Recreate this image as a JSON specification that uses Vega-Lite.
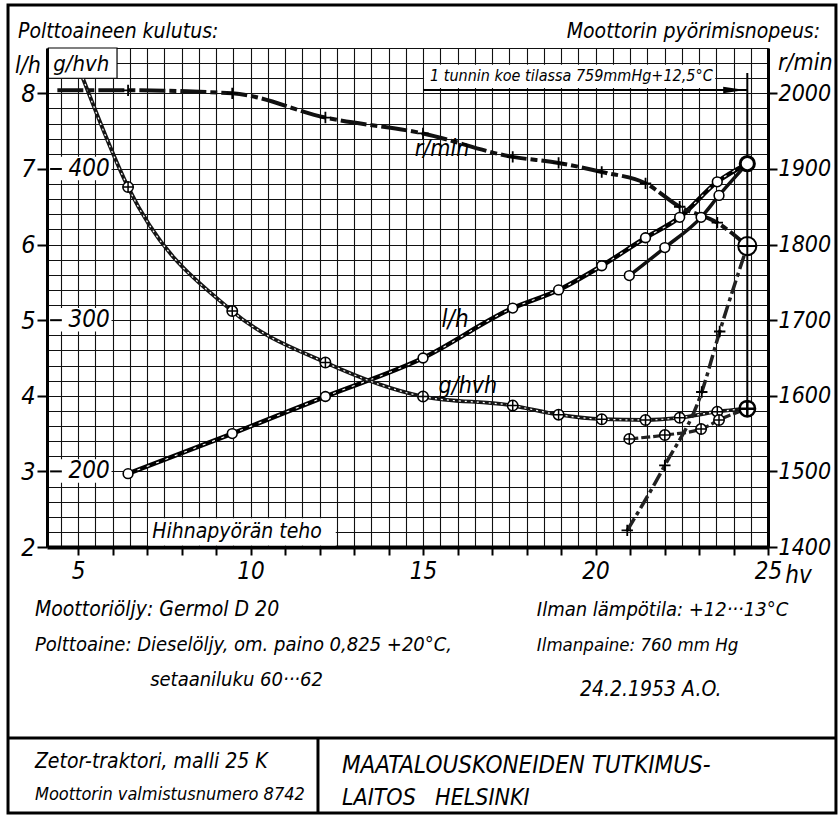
{
"$schema": "https://vega.github.io/schema/vega-lite/v6.json",
"width": 721, "height": 499,
"autosize": {"type": "none"},
"padding": {"left": 47, "top": 48, "right": 72, "bottom": 269},
"background": "white",
"data": {"values": [{}]},
"config": {
  "view": {"stroke": null},
  "font": "DejaVu Sans Condensed, Roboto Condensed, Roboto, sans-serif",
  "text": {"font": "DejaVu Sans Condensed, Roboto Condensed, Roboto, sans-serif", "fontStyle": "italic", "fontSize": 20, "color": "black"},
  "axis": {"labelFont": "DejaVu Sans Condensed, Roboto Condensed, Roboto, sans-serif", "labelFontStyle": "italic", "labelColor": "black", "domainColor": "black", "tickColor": "black"}
},
"datasets": {
  "lh": [
    {"hv": 6.45, "lh": 2.97}, {"hv": 9.47, "lh": 3.50}, {"hv": 12.17, "lh": 3.99}, {"hv": 15.0, "lh": 4.50},
    {"hv": 17.6, "lh": 5.16}, {"hv": 18.93, "lh": 5.40}, {"hv": 20.18, "lh": 5.72}, {"hv": 21.45, "lh": 6.09},
    {"hv": 22.44, "lh": 6.36}, {"hv": 23.53, "lh": 6.83}, {"hv": 24.4, "lh": 7.07}
  ],
  "lh_part": [
    {"hv": 20.98, "lh": 5.59}, {"hv": 22.01, "lh": 5.96}, {"hv": 23.06, "lh": 6.36}, {"hv": 23.58, "lh": 6.65}, {"hv": 24.4, "lh": 7.07}
  ],
  "ghvh": [
    {"hv": 5.14, "ghvh": 460}, {"hv": 6.45, "ghvh": 388}, {"hv": 9.47, "ghvh": 306}, {"hv": 12.17, "ghvh": 272},
    {"hv": 15.0, "ghvh": 249.5}, {"hv": 17.6, "ghvh": 243.5}, {"hv": 18.93, "ghvh": 237.5}, {"hv": 20.18, "ghvh": 234.5},
    {"hv": 21.45, "ghvh": 234}, {"hv": 22.44, "ghvh": 235.5}, {"hv": 23.53, "ghvh": 239.5}, {"hv": 24.4, "ghvh": 241.5}
  ],
  "ghvh_part": [
    {"hv": 20.98, "ghvh": 221.5}, {"hv": 22.01, "ghvh": 224}, {"hv": 23.06, "ghvh": 228}, {"hv": 23.58, "ghvh": 234}, {"hv": 24.4, "ghvh": 241.5}
  ],
  "rpm": [
    {"hv": 4.4, "rpm": 2004}, {"hv": 6.45, "rpm": 2004}, {"hv": 9.47, "rpm": 2000}, {"hv": 12.17, "rpm": 1968},
    {"hv": 15.0, "rpm": 1947}, {"hv": 17.6, "rpm": 1916}, {"hv": 18.93, "rpm": 1908}, {"hv": 20.18, "rpm": 1896},
    {"hv": 21.45, "rpm": 1881}, {"hv": 22.44, "rpm": 1850}, {"hv": 23.53, "rpm": 1829}, {"hv": 24.4, "rpm": 1798}
  ],
  "rpm_part": [
    {"hv": 20.92, "rpm": 1422}, {"hv": 22.01, "rpm": 1508}, {"hv": 23.08, "rpm": 1605}, {"hv": 23.6, "rpm": 1685}, {"hv": 24.4, "rpm": 1798}
  ],
  "test": [{"hv": 24.4, "lh": 7.07, "ghvh": 241.5, "rpm": 1798}]
},
"layer": [
  {"data": {"name": "lh"},
   "mark": {"type": "line", "color": "black", "strokeWidth": 4.5, "interpolate": "monotone"},
   "encoding": {
     "x": {"field": "hv", "type": "quantitative", "scale": {"domain": [4.1, 25], "nice": false, "zero": false},
           "axis": {"orient": "bottom", "values": [4.5,5,5.5,6,6.5,7,7.5,8,8.5,9,9.5,10,10.5,11,11.5,12,12.5,13,13.5,14,14.5,15,15.5,16,16.5,17,17.5,18,18.5,19,19.5,20,20.5,21,21.5,22,22.5,23,23.5,24,24.5,25],
                    "tickCount": 100,
                    "grid": true, "gridColor": "#111", "gridWidth": 1.1, "gridOpacity": 1,
                    "domain": true, "domainWidth": 4, "ticks": true, "tickSize": 8, "tickWidth": 2,
                    "tickOpacity": {"condition": {"test": "datum.value % 1 === 0", "value": 1}, "value": 0},
                    "labelExpr": "datum.value % 5 === 0 ? format(datum.value, 'd') : ''", "labelFontSize": 24, "labelPadding": 4,
                    "labelOverlap": false, "labelFlush": false, "labelBound": false, "title": null, "zindex": 0}},
     "y": {"field": "lh", "type": "quantitative", "scale": {"domain": [2, 8.6], "nice": false, "zero": false},
           "axis": {"orient": "left", "values": [2,2.2,2.4,2.6,2.8,3,3.2,3.4,3.6,3.8,4,4.2,4.4,4.6,4.8,5,5.2,5.4,5.6,5.8,6,6.2,6.4,6.6,6.8,7,7.2,7.4,7.6,7.8,8,8.2,8.4,8.6],
                    "tickCount": 100,
                    "grid": true, "gridColor": "#111", "gridWidth": 1.1, "gridOpacity": 1,
                    "domain": true, "domainWidth": 3, "ticks": true, "tickSize": 10, "tickWidth": 2,
                    "tickOpacity": {"condition": {"test": "datum.value % 1 === 0", "value": 1}, "value": 0},
                    "labelExpr": "datum.value % 1 === 0 ? format(datum.value, 'd') : ''", "labelFontSize": 25, "labelPadding": 2,
                    "labelOverlap": false, "labelFlush": false, "labelBound": false, "title": null, "zindex": 0}}
   }},
  {"data": {"name": "lh"},
   "mark": {"type": "line", "color": "white", "strokeWidth": 1.1, "interpolate": "monotone", "strokeDash": [3, 7]},
   "encoding": {"x": {"field": "hv", "type": "quantitative"}, "y": {"field": "lh", "type": "quantitative", "scale": {"domain": [2, 8.6], "nice": false, "zero": false}, "axis": null}}},
  {"data": {"name": "lh_part"},
   "mark": {"type": "line", "color": "#111", "strokeWidth": 3.5, "interpolate": "monotone"},
   "encoding": {"x": {"field": "hv", "type": "quantitative"}, "y": {"field": "lh", "type": "quantitative", "scale": {"domain": [2, 8.6], "nice": false, "zero": false}, "axis": null}}},
  {"data": {"name": "ghvh"},
   "mark": {"type": "line", "color": "#151515", "strokeWidth": 3.8, "interpolate": "monotone"},
   "encoding": {"x": {"field": "hv", "type": "quantitative"}, "y": {"field": "ghvh", "type": "quantitative", "scale": {"domain": [150, 480], "nice": false, "zero": false}, "axis": null}}},
  {"data": {"name": "ghvh"},
   "mark": {"type": "line", "color": "white", "strokeWidth": 1.2, "interpolate": "monotone", "strokeDash": [2, 4]},
   "encoding": {"x": {"field": "hv", "type": "quantitative"}, "y": {"field": "ghvh", "type": "quantitative", "scale": {"domain": [150, 480], "nice": false, "zero": false}, "axis": null}}},
  {"data": {"name": "ghvh_part"},
   "mark": {"type": "line", "color": "#222", "strokeWidth": 3.2, "interpolate": "monotone", "strokeDash": [9, 3]},
   "encoding": {"x": {"field": "hv", "type": "quantitative"}, "y": {"field": "ghvh", "type": "quantitative", "scale": {"domain": [150, 480], "nice": false, "zero": false}, "axis": null}}},
  {"data": {"name": "rpm"},
   "mark": {"type": "line", "color": "#111", "strokeWidth": 4, "interpolate": "monotone", "strokeDash": [26, 4, 7, 4]},
   "encoding": {
     "x": {"field": "hv", "type": "quantitative"},
     "y": {"field": "rpm", "type": "quantitative", "scale": {"domain": [1400, 2060], "nice": false, "zero": false},
           "axis": {"orient": "right", "grid": false, "values": [1400,1500,1600,1700,1800,1900,2000], "tickCount": 100, "format": "d", "domain": true, "domainWidth": 3, "ticks": true, "tickSize": 9, "tickWidth": 2,
                    "labelFontSize": 23, "labelPadding": 1, "labelBound": false, "labelFlush": false, "title": null, "zindex": 0}}
   }},
  {"data": {"name": "rpm_part"},
   "mark": {"type": "line", "color": "#222", "strokeWidth": 3.5, "interpolate": "monotone", "strokeDash": [14, 4, 4, 4]},
   "encoding": {"x": {"field": "hv", "type": "quantitative"}, "y": {"field": "rpm", "type": "quantitative", "scale": {"domain": [1400, 2060], "nice": false, "zero": false}, "axis": null}}},
  {"data": {"name": "test"},
   "mark": {"type": "rule", "color": "black", "strokeWidth": 2},
   "encoding": {"x": {"field": "hv", "type": "quantitative"}, "y": {"datum": 8.27, "scale": {"domain": [2, 8.6], "nice": false, "zero": false}, "axis": null}, "y2": {"datum": 3.9}}},
  {"data": {"name": "lh"}, "transform": [{"filter": "datum.hv < 24.2"}],
   "mark": {"type": "point", "shape": "circle", "filled": true, "fill": "white", "stroke": "black", "strokeWidth": 1.6, "size": 95, "opacity": 1},
   "encoding": {"x": {"field": "hv", "type": "quantitative"}, "y": {"field": "lh", "type": "quantitative", "scale": {"domain": [2, 8.6], "nice": false, "zero": false}, "axis": null}}},
  {"data": {"name": "lh_part"}, "transform": [{"filter": "datum.hv < 24.2"}],
   "mark": {"type": "point", "shape": "circle", "filled": true, "fill": "white", "stroke": "black", "strokeWidth": 1.6, "size": 95, "opacity": 1},
   "encoding": {"x": {"field": "hv", "type": "quantitative"}, "y": {"field": "lh", "type": "quantitative", "scale": {"domain": [2, 8.6], "nice": false, "zero": false}, "axis": null}}},
  {"data": {"name": "ghvh"}, "transform": [{"filter": "datum.hv > 6 && datum.hv < 24.2"}],
   "mark": {"type": "point", "shape": "M-1,0A1,1 0 1,0 1,0A1,1 0 1,0 -1,0ZM-1,0L1,0M0,-1L0,1", "filled": true, "fill": "white", "stroke": "black", "strokeWidth": 1.5, "size": 110, "opacity": 1},
   "encoding": {"x": {"field": "hv", "type": "quantitative"}, "y": {"field": "ghvh", "type": "quantitative", "scale": {"domain": [150, 480], "nice": false, "zero": false}, "axis": null}}},
  {"data": {"name": "ghvh_part"}, "transform": [{"filter": "datum.hv < 24.2"}],
   "mark": {"type": "point", "shape": "M-1,0A1,1 0 1,0 1,0A1,1 0 1,0 -1,0ZM-1,0L1,0M0,-1L0,1", "filled": true, "fill": "white", "stroke": "black", "strokeWidth": 1.5, "size": 110, "opacity": 1},
   "encoding": {"x": {"field": "hv", "type": "quantitative"}, "y": {"field": "ghvh", "type": "quantitative", "scale": {"domain": [150, 480], "nice": false, "zero": false}, "axis": null}}},
  {"data": {"name": "rpm"}, "transform": [{"filter": "datum.hv > 6 && datum.hv < 24.2"}],
   "mark": {"type": "point", "shape": "M-1,0L1,0M0,-1L0,1", "filled": false, "stroke": "black", "strokeWidth": 1.8, "size": 130, "opacity": 1},
   "encoding": {"x": {"field": "hv", "type": "quantitative"}, "y": {"field": "rpm", "type": "quantitative", "scale": {"domain": [1400, 2060], "nice": false, "zero": false}, "axis": null}}},
  {"data": {"name": "rpm_part"}, "transform": [{"filter": "datum.hv < 24.2"}],
   "mark": {"type": "point", "shape": "M-1,0L1,0M0,-1L0,1", "filled": false, "stroke": "black", "strokeWidth": 1.8, "size": 130, "opacity": 1},
   "encoding": {"x": {"field": "hv", "type": "quantitative"}, "y": {"field": "rpm", "type": "quantitative", "scale": {"domain": [1400, 2060], "nice": false, "zero": false}, "axis": null}}},
  {"data": {"name": "test"},
   "mark": {"type": "point", "shape": "circle", "filled": true, "fill": "white", "stroke": "black", "strokeWidth": 3, "size": 200, "opacity": 1},
   "encoding": {"x": {"field": "hv", "type": "quantitative"}, "y": {"field": "lh", "type": "quantitative", "scale": {"domain": [2, 8.6], "nice": false, "zero": false}, "axis": null}}},
  {"data": {"name": "test"},
   "mark": {"type": "point", "shape": "M-1,0A1,1 0 1,0 1,0A1,1 0 1,0 -1,0ZM-1,0L1,0M0,-1L0,1", "filled": true, "fill": "white", "stroke": "black", "strokeWidth": 2.5, "size": 240, "opacity": 1},
   "encoding": {"x": {"field": "hv", "type": "quantitative"}, "y": {"field": "ghvh", "type": "quantitative", "scale": {"domain": [150, 480], "nice": false, "zero": false}, "axis": null}}},
  {"data": {"name": "test"},
   "mark": {"type": "point", "shape": "M-1,0A1,1 0 1,0 1,0A1,1 0 1,0 -1,0ZM-1,0L1,0M0,-1L0,1", "filled": true, "fill": "white", "stroke": "black", "strokeWidth": 2, "size": 330, "opacity": 1},
   "encoding": {"x": {"field": "hv", "type": "quantitative"}, "y": {"field": "rpm", "type": "quantitative", "scale": {"domain": [1400, 2060], "nice": false, "zero": false}, "axis": null}}},
  {"mark": {"type": "rule", "color": "black", "strokeWidth": 2},
   "encoding": {"x": {"datum": 15.0}, "x2": {"datum": 24.4}, "y": {"datum": 8.045, "scale": {"domain": [2, 8.6], "nice": false, "zero": false}, "axis": null}}},
  {"mark": {"type": "point", "shape": "M-1,-0.3L1,0L-1,0.3Z", "filled": true, "fill": "black", "strokeWidth": 0, "size": 484, "opacity": 1},
   "encoding": {"x": {"datum": 24.02}, "y": {"datum": 8.045, "scale": {"domain": [2, 8.6], "nice": false, "zero": false}, "axis": null}}},
  {"mark": {"type": "rect", "fill": "white", "stroke": null},
   "encoding": {"x": {"datum": 15.03}, "x2": {"datum": 23.47}, "y": {"datum": 8.07, "scale": {"domain": [2, 8.6], "nice": false, "zero": false}, "axis": null}, "y2": {"datum": 8.38}}},
  {"mark": {"type": "text", "text": "1 tunnin koe tilassa 759mmHg+12,5°C", "align": "center", "baseline": "middle", "fontSize": 16},
   "encoding": {"x": {"datum": 19.3}, "y": {"datum": 8.23, "scale": {"domain": [2, 8.6], "nice": false, "zero": false}, "axis": null}}},
  {"mark": {"type": "rect", "fill": "white", "stroke": "black", "strokeWidth": 1.2},
   "encoding": {"x": {"datum": 4.14}, "x2": {"datum": 6.13}, "y": {"datum": 8.2, "scale": {"domain": [2, 8.6], "nice": false, "zero": false}, "axis": null}, "y2": {"datum": 8.6}}},
  {"mark": {"type": "text", "text": "g/hvh", "align": "left", "baseline": "middle", "fontSize": 22},
   "encoding": {"x": {"datum": 4.28}, "y": {"datum": 8.39, "scale": {"domain": [2, 8.6], "nice": false, "zero": false}, "axis": null}}},
  {"mark": {"type": "rect", "fill": "white", "stroke": null},
   "encoding": {"x": {"datum": 7.03}, "x2": {"datum": 12.47}, "y": {"datum": 2.02, "scale": {"domain": [2, 8.6], "nice": false, "zero": false}, "axis": null}, "y2": {"datum": 2.38}}},
  {"mark": {"type": "text", "text": "Hihnapyörän teho", "align": "left", "baseline": "middle", "fontSize": 21},
   "encoding": {"x": {"datum": 7.15}, "y": {"datum": 2.2, "scale": {"domain": [2, 8.6], "nice": false, "zero": false}, "axis": null}}},
  {"mark": {"type": "rect", "fill": "white", "stroke": null},
   "encoding": {"x": {"datum": 4.16}, "x2": {"datum": 5.97}, "y": {"datum": 392.5, "scale": {"domain": [150, 480], "nice": false, "zero": false}, "axis": null}, "y2": {"datum": 408}}},
  {"mark": {"type": "rect", "fill": "white", "stroke": null},
   "encoding": {"x": {"datum": 4.16}, "x2": {"datum": 5.97}, "y": {"datum": 292.5, "scale": {"domain": [150, 480], "nice": false, "zero": false}, "axis": null}, "y2": {"datum": 308}}},
  {"mark": {"type": "rect", "fill": "white", "stroke": null},
   "encoding": {"x": {"datum": 4.16}, "x2": {"datum": 5.97}, "y": {"datum": 192.5, "scale": {"domain": [150, 480], "nice": false, "zero": false}, "axis": null}, "y2": {"datum": 208}}},
  {"mark": {"type": "rule", "color": "black", "strokeWidth": 2},
   "encoding": {"x": {"datum": 4.19}, "x2": {"datum": 4.53}, "y": {"datum": 400, "scale": {"domain": [150, 480], "nice": false, "zero": false}, "axis": null}}},
  {"mark": {"type": "rule", "color": "black", "strokeWidth": 2},
   "encoding": {"x": {"datum": 4.19}, "x2": {"datum": 4.53}, "y": {"datum": 300, "scale": {"domain": [150, 480], "nice": false, "zero": false}, "axis": null}}},
  {"mark": {"type": "rule", "color": "black", "strokeWidth": 2},
   "encoding": {"x": {"datum": 4.19}, "x2": {"datum": 4.53}, "y": {"datum": 200, "scale": {"domain": [150, 480], "nice": false, "zero": false}, "axis": null}}},
  {"mark": {"type": "text", "text": "400", "align": "center", "baseline": "middle", "fontSize": 24},
   "encoding": {"x": {"datum": 5.32}, "y": {"datum": 400, "scale": {"domain": [150, 480], "nice": false, "zero": false}, "axis": null}}},
  {"mark": {"type": "text", "text": "300", "align": "center", "baseline": "middle", "fontSize": 24},
   "encoding": {"x": {"datum": 5.32}, "y": {"datum": 300, "scale": {"domain": [150, 480], "nice": false, "zero": false}, "axis": null}}},
  {"mark": {"type": "text", "text": "200", "align": "center", "baseline": "middle", "fontSize": 24},
   "encoding": {"x": {"datum": 5.32}, "y": {"datum": 200, "scale": {"domain": [150, 480], "nice": false, "zero": false}, "axis": null}}},
  {"mark": {"type": "text", "text": "r/min", "align": "center", "baseline": "middle", "fontSize": 23},
   "encoding": {"x": {"datum": 15.55}, "y": {"datum": 7.27, "scale": {"domain": [2, 8.6], "nice": false, "zero": false}, "axis": null}}},
  {"mark": {"type": "text", "text": "l/h", "align": "center", "baseline": "middle", "fontSize": 24},
   "encoding": {"x": {"datum": 15.93}, "y": {"datum": 5.0, "scale": {"domain": [2, 8.6], "nice": false, "zero": false}, "axis": null}}},
  {"mark": {"type": "text", "text": "g/hvh", "align": "center", "baseline": "middle", "fontSize": 23},
   "encoding": {"x": {"datum": 16.3}, "y": {"datum": 4.13, "scale": {"domain": [2, 8.6], "nice": false, "zero": false}, "axis": null}}},
  {"mark": {"type": "text", "text": "Polttoaineen kulutus:", "align": "left", "baseline": "middle", "fontSize": 21},
   "encoding": {"x": {"datum": 3.26}, "y": {"datum": 8.81, "scale": {"domain": [2, 8.6], "nice": false, "zero": false}, "axis": null}}},
  {"mark": {"type": "text", "text": "Moottorin pyörimisnopeus:", "align": "right", "baseline": "middle", "fontSize": 21},
   "encoding": {"x": {"datum": 26.51}, "y": {"datum": 8.81, "scale": {"domain": [2, 8.6], "nice": false, "zero": false}, "axis": null}}},
  {"mark": {"type": "text", "text": "l/h", "align": "left", "baseline": "middle", "fontSize": 23},
   "encoding": {"x": {"datum": 3.17}, "y": {"datum": 8.36, "scale": {"domain": [2, 8.6], "nice": false, "zero": false}, "axis": null}}},
  {"mark": {"type": "text", "text": "r/min", "align": "left", "baseline": "middle", "fontSize": 23},
   "encoding": {"x": {"datum": 25.29}, "y": {"datum": 8.40, "scale": {"domain": [2, 8.6], "nice": false, "zero": false}, "axis": null}}},
  {"mark": {"type": "text", "text": "hv", "align": "left", "baseline": "middle", "fontSize": 24},
   "encoding": {"x": {"datum": 25.5}, "y": {"datum": 1.62, "scale": {"domain": [2, 8.6], "nice": false, "zero": false}, "axis": null}}},
  {"mark": {"type": "text", "text": "Moottoriöljy: Germol D 20", "align": "left", "baseline": "middle", "fontSize": 21},
   "encoding": {"x": {"datum": 3.75}, "y": {"datum": 1.167, "scale": {"domain": [2, 8.6], "nice": false, "zero": false}, "axis": null}}},
  {"mark": {"type": "text", "text": "Polttoaine: Dieselöljy, om. paino 0,825 +20°C,", "align": "left", "baseline": "middle", "fontSize": 20},
   "encoding": {"x": {"datum": 3.75}, "y": {"datum": 0.704, "scale": {"domain": [2, 8.6], "nice": false, "zero": false}, "axis": null}}},
  {"mark": {"type": "text", "text": "setaaniluku 60···62", "align": "left", "baseline": "middle", "fontSize": 20},
   "encoding": {"x": {"datum": 7.09}, "y": {"datum": 0.241, "scale": {"domain": [2, 8.6], "nice": false, "zero": false}, "axis": null}}},
  {"mark": {"type": "text", "text": "Ilman lämpötila: +12···13°C", "align": "left", "baseline": "middle", "fontSize": 20},
   "encoding": {"x": {"datum": 18.3}, "y": {"datum": 1.167, "scale": {"domain": [2, 8.6], "nice": false, "zero": false}, "axis": null}}},
  {"mark": {"type": "text", "text": "Ilmanpaine: 760 mm Hg", "align": "left", "baseline": "middle", "fontSize": 18.5},
   "encoding": {"x": {"datum": 18.3}, "y": {"datum": 0.704, "scale": {"domain": [2, 8.6], "nice": false, "zero": false}, "axis": null}}},
  {"mark": {"type": "text", "text": "24.2.1953 A.O.", "align": "left", "baseline": "middle", "fontSize": 21},
   "encoding": {"x": {"datum": 19.55}, "y": {"datum": 0.108, "scale": {"domain": [2, 8.6], "nice": false, "zero": false}, "axis": null}}},
  {"mark": {"type": "text", "text": "Zetor-traktori, malli 25 K", "align": "left", "baseline": "middle", "fontSize": 21},
   "encoding": {"x": {"datum": 3.75}, "y": {"datum": -0.844, "scale": {"domain": [2, 8.6], "nice": false, "zero": false}, "axis": null}}},
  {"mark": {"type": "text", "text": "Moottorin valmistusnumero 8742", "align": "left", "baseline": "middle", "fontSize": 18},
   "encoding": {"x": {"datum": 3.75}, "y": {"datum": -1.28, "scale": {"domain": [2, 8.6], "nice": false, "zero": false}, "axis": null}}},
  {"mark": {"type": "text", "text": "MAATALOUSKONEIDEN TUTKIMUS-", "align": "left", "baseline": "middle", "fontSize": 24},
   "encoding": {"x": {"datum": 12.65}, "y": {"datum": -0.897, "scale": {"domain": [2, 8.6], "nice": false, "zero": false}, "axis": null}}},
  {"mark": {"type": "text", "text": "LAITOS", "align": "left", "baseline": "middle", "fontSize": 23},
   "encoding": {"x": {"datum": 12.65}, "y": {"datum": -1.32, "scale": {"domain": [2, 8.6], "nice": false, "zero": false}, "axis": null}}},
  {"mark": {"type": "text", "text": "HELSINKI", "align": "left", "baseline": "middle", "fontSize": 23},
   "encoding": {"x": {"datum": 15.35}, "y": {"datum": -1.32, "scale": {"domain": [2, 8.6], "nice": false, "zero": false}, "axis": null}}},
  {"mark": {"type": "rect", "fill": null, "stroke": "black", "strokeWidth": 3},
   "encoding": {"x": {"datum": 2.97}, "x2": {"datum": 26.97}, "y": {"datum": -1.519, "scale": {"domain": [2, 8.6], "nice": false, "zero": false}, "axis": null}, "y2": {"datum": 9.17}}},
  {"mark": {"type": "rule", "color": "black", "strokeWidth": 3},
   "encoding": {"x": {"datum": 2.97}, "x2": {"datum": 26.97}, "y": {"datum": -0.526, "scale": {"domain": [2, 8.6], "nice": false, "zero": false}, "axis": null}}},
  {"mark": {"type": "rule", "color": "black", "strokeWidth": 3},
   "encoding": {"x": {"datum": 11.955}, "y": {"datum": -0.526, "scale": {"domain": [2, 8.6], "nice": false, "zero": false}, "axis": null}, "y2": {"datum": -1.519}}}
],
"resolve": {"scale": {"y": "independent"}}
}
